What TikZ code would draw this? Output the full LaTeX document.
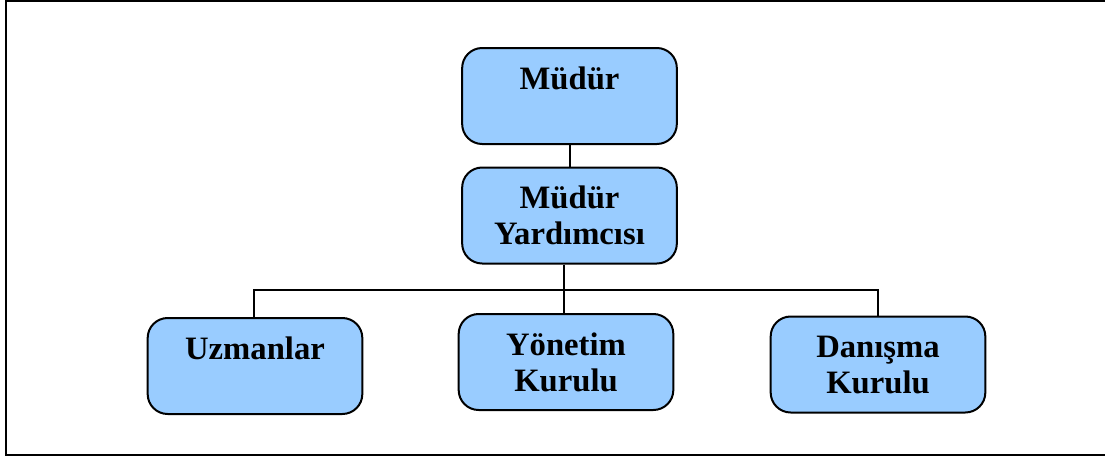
\documentclass[tikz,border=0pt]{standalone}
\usepackage{fontspec}
\setmainfont{Liberation Serif}
\definecolor{boxblue}{HTML}{99CCFF}
\tikzset{
  unit/.style={rectangle, draw, line width=1.5pt, rounded corners=15pt, fill=boxblue,
    minimum width=161pt, minimum height=72pt, align=center,
    font=\fontsize{24.5}{27}\selectfont\bfseries},
  link/.style={line width=0.8pt}
}
\begin{document}
\begin{tikzpicture}[x=0.75pt, y=-0.75pt]
  \useasboundingbox (0,0) rectangle (1105,457);
  % Frame
  \draw[line width=1.5pt] (1106,1) -- (6,1) -- (6,455) -- (1106,455);
  % Nodes
  \node (mudur) [unit] at (569.5, 96) {Müdür\\\mbox{}};
  \node (yard) [unit] at (569.5, 215.5) {Müdür\\Yardımcısı};
  \node (uzman) [unit] at (255, 366) {Uzmanlar\\\mbox{}};
  \node (yonetim) [unit] at (566, 362) {Yönetim\\Kurulu};
  \node (danisma) [unit] at (878, 364.5) {Danışma\\Kurulu};
  \coordinate (bar) at (564, 290);
  % Lines
  \draw[link] (mudur.south -| 570,0) -- (yard.north -| 570,0);
  \draw[link] (yard.south -| bar) -- (bar);
  \draw[link] (uzman.north -| 254,0) |- (bar) -| (danisma.north);
  \draw[link] (bar) -- (yonetim.north -| bar);
\end{tikzpicture}
\end{document}
